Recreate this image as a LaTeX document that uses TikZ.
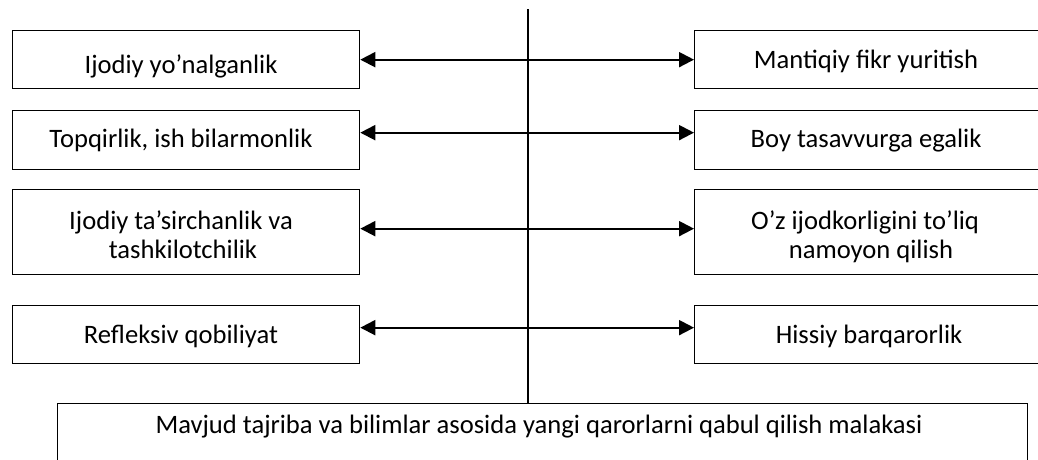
\documentclass[tikz,border=0pt]{standalone}
\usepackage{fontspec}
\setmainfont{Carlito}
\usetikzlibrary{arrows.meta}
\tikzset{
  box/.style={draw, line width=1.3pt, minimum width=347pt, inner sep=0pt, anchor=north west},
  lbl/.style={anchor=base, inner sep=0pt, font=\fontsize{26.6}{29}\selectfont},
  arr/.style={line width=2pt, {Triangle[length=15pt,width=15pt]}-{Triangle[length=15pt,width=15pt]}},
  vline/.style={line width=1.3pt}
}
\begin{document}
\begin{tikzpicture}[x=1pt,y=-1pt]
\useasboundingbox (0,0) rectangle (1038,459);
\clip (0,0) rectangle (1038,459);
\fill[white] (0,0) rectangle (1038,459);
% left boxes
\node[box, minimum height=58pt] (l1) at (12,30) {};
\node[box, minimum height=59pt] (l2) at (12,110) {};
\node[box, minimum height=85pt] (l3) at (12,189) {};
\node[box, minimum height=58pt] (l4) at (12,305) {};
% right boxes
\node[box, minimum height=58pt] (r1) at (694,30) {};
\node[box, minimum height=59pt] (r2) at (694,110) {};
\node[box, minimum height=85pt] (r3) at (694,189) {};
\node[box, minimum height=58pt] (r4) at (694,305) {};
% bottom box
\node[box, minimum width=970pt, minimum height=59pt] (bot) at (57,403) {};
% texts
\node[lbl] (t1) at (181,73) {Ijodiy yo’nalganlik};
\node[lbl] (t2) at (181,147) {Topqirlik, ish bilarmonlik};
\node[lbl] (t3a) at (181,229) {Ijodiy ta’sirchanlik va};
\node[lbl] (t3b) at (183,258) {tashkilotchilik};
\node[lbl] (t4) at (181,343) {Refleksiv qobiliyat};
\node[lbl] (u1) at (866,68) {Mantiqiy fikr yuritish};
\node[lbl] (u2) at (866,147) {Boy tasavvurga egalik};
\node[lbl] (u3a) at (865,229) {O’z ijodkorligini to’liq};
\node[lbl] (u3b) at (871,258) {namoyon qilish};
\node[lbl] (u4) at (869,343) {Hissiy barqarorlik};
\node[lbl] (tb) at (539,433) {Mavjud tajriba va bilimlar asosida yangi qarorlarni qabul qilish malakasi};
% vertical line
\coordinate (top) at (528,9);
\draw[vline] (top) -- (top |- bot.north);
% arrows
\draw[arr] (l1.east) -- (r1.west);
\draw[arr] ([yshift=7.5pt]l2.east) -- ([yshift=7.5pt]r2.west);
\draw[arr] ([yshift=3.5pt]l3.east) -- ([yshift=3.5pt]r3.west);
\draw[arr] ([yshift=7pt]l4.east) -- ([yshift=7pt]r4.west);
\end{tikzpicture}
\end{document}
